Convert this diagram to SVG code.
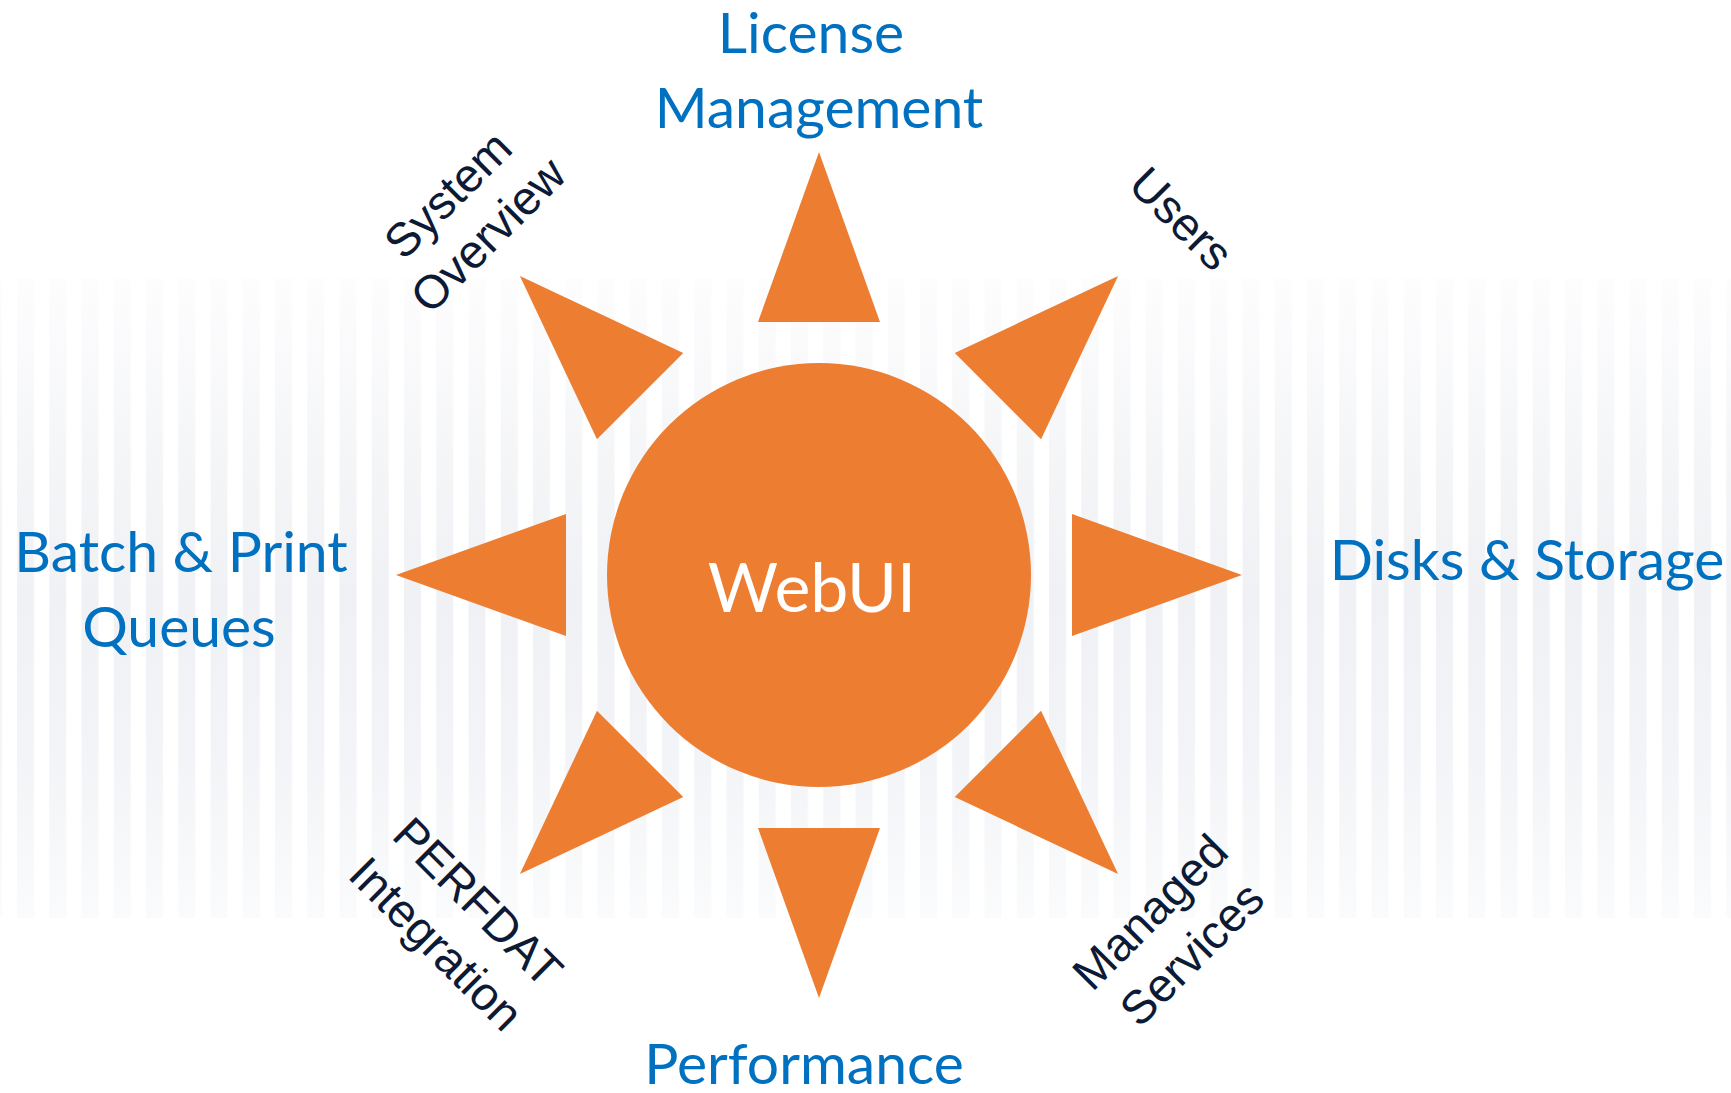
<svg xmlns="http://www.w3.org/2000/svg" width="1731" height="1093" viewBox="0 0 1731 1093">
  <defs>
    <linearGradient id="stripeFade" x1="0" y1="278" x2="0" y2="918" gradientUnits="userSpaceOnUse">
      <stop offset="0" stop-color="#fdfdfe"/>
      <stop offset="0.3" stop-color="#f4f5f7"/>
      <stop offset="0.5" stop-color="#eff1f4"/>
      <stop offset="0.75" stop-color="#f3f4f7"/>
      <stop offset="1" stop-color="#fafbfc"/>
    </linearGradient>
    <pattern id="stripes" x="17" y="0" width="32.25" height="1093" patternUnits="userSpaceOnUse">
      <rect x="0" y="0" width="17" height="1093" fill="url(#stripeFade)"/>
    </pattern>
    <polygon id="ray" points="0,-423 61,-253 -61,-253"/>
  </defs>
  <style>
    .ray { fill: #ed7d31; }
    .hub { fill: #ed7d31; }
    .blue { font-family: Lato, "Open Sans", "Liberation Sans", sans-serif; fill: #0070c0; text-anchor: middle; font-size: 57px; }
    .dark { font-family: "Liberation Sans", Arial, sans-serif; fill: #0c1a36; text-anchor: middle; font-size: 47px; }
    .hubtext { font-family: Lato, "Open Sans", "Liberation Sans", sans-serif; fill: #ffffff; text-anchor: middle; font-size: 68px; }
  </style>
  <rect width="1731" height="1093" fill="#ffffff"/>
  <g id="background">
    <rect x="0" y="278" width="1731" height="640" fill="url(#stripes)"/>
  </g>
  <g id="connectors" transform="translate(819,575)">
    <use href="#ray" class="ray"/>
    <use href="#ray" class="ray" transform="rotate(45)"/>
    <use href="#ray" class="ray" transform="rotate(90)"/>
    <use href="#ray" class="ray" transform="rotate(135)"/>
    <use href="#ray" class="ray" transform="rotate(180)"/>
    <use href="#ray" class="ray" transform="rotate(225)"/>
    <use href="#ray" class="ray" transform="rotate(270)"/>
    <use href="#ray" class="ray" transform="rotate(315)"/>
  </g>
  <g id="node-webui">
    <circle class="hub" cx="819" cy="575" r="212"/>
    <text class="hubtext" x="812" y="612">WebUI</text>
  </g>
  <g id="node-license">
    <text class="blue" x="811" y="53">License</text>
    <text class="blue" x="819" y="128">Management</text>
  </g>
  <g id="node-disks">
    <text class="blue" x="1527" y="580">Disks &amp; Storage</text>
  </g>
  <g id="node-performance">
    <text class="blue" x="804" y="1084">Performance</text>
  </g>
  <g id="node-batch">
    <text class="blue" x="181" y="572">Batch &amp; Print</text>
    <text class="blue" x="179" y="647">Queues</text>
  </g>
  <g id="node-system" transform="translate(467,214) rotate(-45)">
    <text class="dark" x="0" y="-11">System</text>
    <text class="dark" x="0" y="46">Overview</text>
  </g>
  <g id="node-users" transform="translate(1182,218) rotate(45)">
    <text class="dark" x="0" y="17">Users</text>
  </g>
  <g id="node-perfdat" transform="translate(458,922) rotate(45)">
    <text class="dark" x="0" y="-12">PERFDAT</text>
    <text class="dark" x="0" y="47">Integration</text>
  </g>
  <g id="node-managed" transform="translate(1170,932) rotate(-45)">
    <text class="dark" x="0" y="-12">Managed</text>
    <text class="dark" x="0" y="47">Services</text>
  </g>
</svg>
